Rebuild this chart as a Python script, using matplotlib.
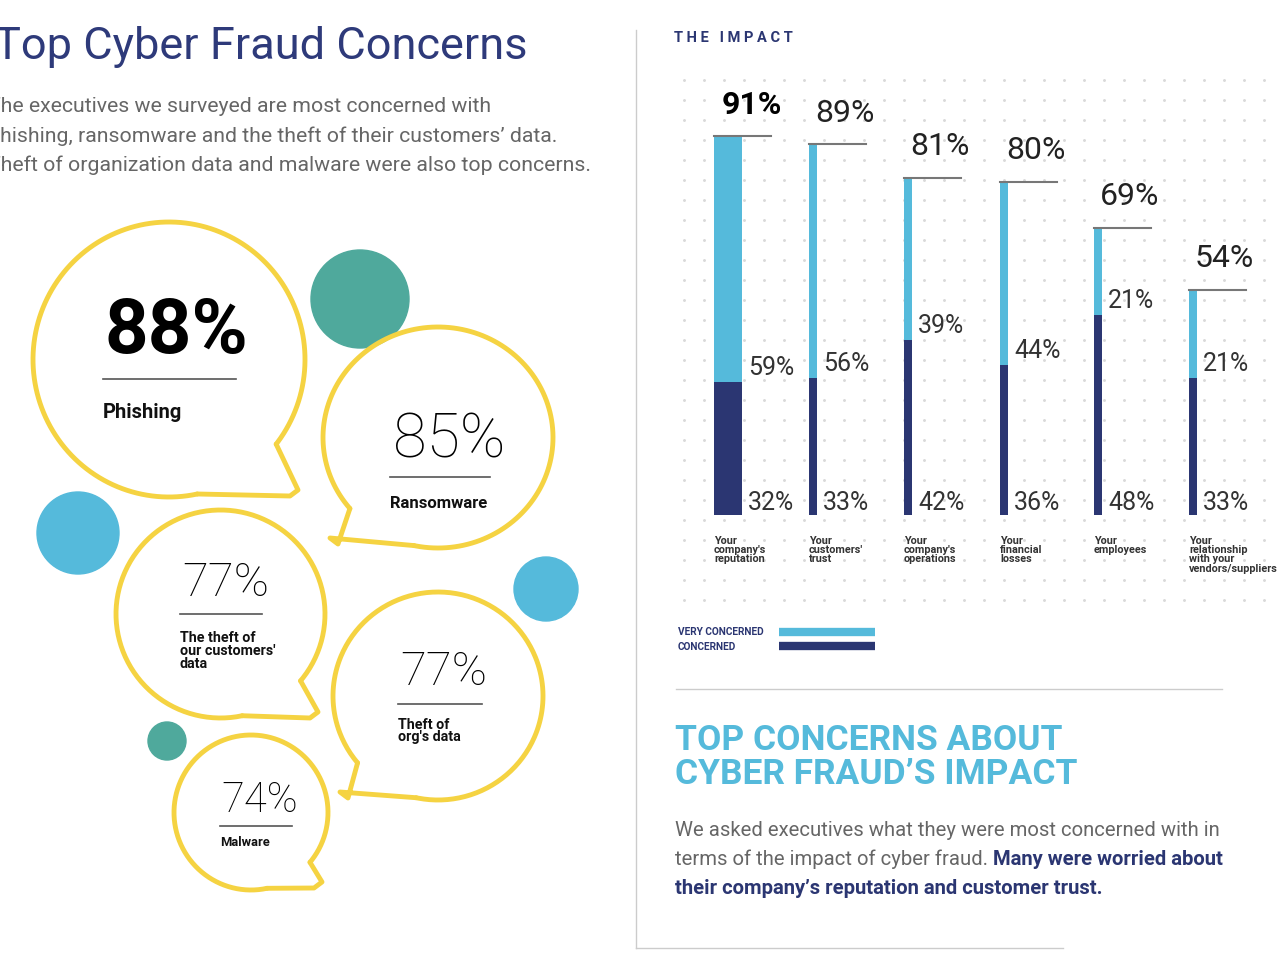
import numpy as np
import matplotlib
matplotlib.use("Agg")
import matplotlib.pyplot as plt
from matplotlib.patches import Circle

plt.rcParams['font.family'] = ['Roboto', 'DejaVu Sans']

# -------- Data --------
impact_labels = ["Your\ncompany's\nreputation", "Your\ncustomers'\ntrust", "Your\ncompany's\noperations",
                 "Your\nfinancial\nlosses", "Your\nemployees", "Your\nrelationship\nwith your\nvendors/suppliers"]
concerned = [32, 33, 42, 36, 48, 33]
very_concerned = [59, 56, 39, 44, 21, 21]
totals = [91, 89, 81, 80, 69, 54]

fraud_pcts = ["88%", "85%", "77%", "77%", "74%"]
fraud_names = ["Phishing", "Ransomware", "The theft of\nour customers'\ndata", "Theft of\norg's data", "Malware"]

# -------- Colours --------
NAVY = "#2B3672"
LIGHT = "#55BADB"
TEAL = "#4FA99C"
YELLOW = "#F5D342"
GRAY = "#666666"

fig = plt.figure(figsize=(12.8, 9.6), dpi=100)
ov = fig.add_axes([0, 0, 1, 1])
ov.set_xlim(0, 1280)
ov.set_ylim(960, 0)
ov.axis("off")

# dotted background behind bar chart
gx, gy = np.meshgrid(np.arange(684, 1280, 20), np.arange(80, 610, 20))
ov.scatter(gx.ravel(), gy.ravel(), s=1.2, color="#d9d9d9", zorder=0)

# -------- Left: title and intro (cropped at the left edge, as in the original) --------
ov.text(-6, 47, "Top Cyber Fraud Concerns", fontsize=32.5, color="#2E3A7A", va="center", ha="left")
intro = ["The executives we surveyed are most concerned with",
         "phishing, ransomware and the theft of their customers\u2019 data.",
         "Theft of organization data and malware were also top concerns."]
for i, line in enumerate(intro):
    ov.text(-12, 107 + i * 29, line, fontsize=15.3, color=GRAY, va="center", ha="left")


def bubble(left, right, top, bottom, a1, a2, tip, flip=False):
    cx, cy = (left + right) / 2, (top + bottom) / 2
    rx, ry = (right - left) / 2, (bottom - top) / 2
    # ellipse with a gap between angles a1..a2 (screen coords, 90 = bottom)
    th = np.radians(np.linspace(a2, a1 + 360, 300))
    xs = cx + rx * np.cos(th)
    ys = cy + ry * np.sin(th)
    p1 = (cx + rx * np.cos(np.radians(a1)), cy + ry * np.sin(np.radians(a1)))
    p2 = (cx + rx * np.cos(np.radians(a2)), cy + ry * np.sin(np.radians(a2)))
    ov.plot(xs, ys, color=YELLOW, lw=3.5, solid_capstyle="round", zorder=2)
    ov.plot([p1[0], tip[0], tip[0] + (8 if flip else -8), p2[0]],
            [p1[1], tip[1], tip[1] + 6, p2[1]], color=YELLOW, lw=3.5,
            solid_joinstyle="round", solid_capstyle="round", zorder=2)


bubble(33, 305, 222, 497, 38, 78, (298, 490))
bubble(323, 553, 327, 548, 102, 140, (330, 538), flip=True)
bubble(116, 325, 510, 718, 40, 78, (318, 712))
bubble(333, 543, 592, 800, 102, 140, (340, 792), flip=True)
bubble(174, 328, 735, 890, 40, 78, (322, 882))

for (x, y, r, c) in [(360, 299, 49, TEAL), (78, 533, 41, LIGHT), (546, 589, 32, LIGHT), (167, 741, 19, TEAL)]:
    ov.add_patch(Circle((x, y), r, color=c, zorder=1))

# bubble contents: (pct x, pct y, size, weight, line x0, x1, line y, name y, name size)
layout = [(105, 332, 55, "bold", 103, 236, 379, 412, 14.5),
          (393, 440, 44, "light", 390, 490, 477, 503, 12),
          (182, 583, 34, "light", 180, 262, 614, 651, 10.3),
          (400, 672, 34, "light", 398, 482, 704, 731, 10.3),
          (221, 800, 30, "light", 220, 292, 826, 843, 9.3)]
for pct, name, (px, py, ps, pw, lx0, lx1, ly, ny, ns) in zip(fraud_pcts, fraud_names, layout):
    ov.text(px, py, pct, fontsize=ps, fontweight=pw, color="black", va="center", ha="left")
    ov.plot([lx0, lx1], [ly, ly], color="#555555", lw=1.2)
    ov.text(lx0, ny, name, fontsize=ns, fontweight="bold", color="#111111", va="center",
            ha="left", linespacing=0.9)

# -------- Right panel frame --------
ov.plot([636, 636], [30, 948], color="#cccccc", lw=1)
ov.plot([636, 1063], [948, 948], color="#cccccc", lw=1)
ov.text(674, 38, "T H E   I M P A C T", fontsize=10.5, fontweight="bold", color=NAVY, va="center")

# -------- Bar chart --------
base_px, scale_px = 515, 4.165
ax = fig.add_axes([0, (960 - base_px) / 960, 1, 100 * scale_px / 960])
ax.set_xlim(0, 1280)
ax.set_ylim(0, 100)
ax.axis("off")
ax.patch.set_alpha(0)
xpos = [728, 813, 908, 1004, 1098, 1193]
widths = [28, 8, 8, 8, 8, 8]
ax.bar(xpos, concerned, width=widths, color=NAVY, zorder=3)
ax.bar(xpos, very_concerned, width=widths, bottom=concerned, color=LIGHT, zorder=3)
for i, (x, w) in enumerate(zip(xpos, widths)):
    left = x - w / 2
    right = x + w / 2
    ax.plot([left, left + 57], [totals[i], totals[i]], color="#777777", lw=1.5, zorder=4)
    ax.text(left + (8 if i == 0 else 6), totals[i] + 7.5, f"{totals[i]}%", fontsize=23,
            fontweight="bold" if i == 0 else "normal", color="black" if i == 0 else "#222222",
            va="center", ha="left")
    ax.text(right + 6, concerned[i] + 3.3, f"{very_concerned[i]}%", fontsize=18,
            color="#333333", va="center", ha="left")
    ax.text(right + 6, 3, f"{concerned[i]}%", fontsize=18, color="#333333", va="center", ha="left")
    ov.text(left, 536, impact_labels[i], fontsize=7.8, fontweight="bold", color="#333333",
            va="top", ha="left", linespacing=0.9)

# legend
ov.text(678, 632, "VERY CONCERNED", fontsize=7.3, fontweight="bold", color=NAVY, va="center")
ov.text(678, 647, "CONCERNED", fontsize=7.3, fontweight="bold", color=NAVY, va="center")
ov.plot([779, 875], [632, 632], color=LIGHT, lw=6, solid_capstyle="butt")
ov.plot([779, 875], [646, 646], color=NAVY, lw=6, solid_capstyle="butt")

ov.plot([676, 1222], [689, 689], color="#cccccc", lw=1)
ov.text(675, 740, "TOP CONCERNS ABOUT", fontsize=25.5, fontweight="bold", color=LIGHT, va="center")
ov.text(675, 774, "CYBER FRAUD\u2019S IMPACT", fontsize=25.5, fontweight="bold", color=LIGHT, va="center")

ov.text(675, 830, "We asked executives what they were most concerned with in", fontsize=14.6,
        color=GRAY, va="center")
t = ov.text(675, 859, "terms of the impact of cyber fraud. ", fontsize=14.6, color=GRAY, va="center")
ov.annotate("Many were worried about", xy=(1, 0), xycoords=t, fontsize=14.6, fontweight="bold",
            color=NAVY, va="bottom", ha="left")
ov.text(675, 888, "their company\u2019s reputation and customer trust.", fontsize=14.6,
        fontweight="bold", color=NAVY, va="center")

fig.savefig("out.png", dpi=100)
